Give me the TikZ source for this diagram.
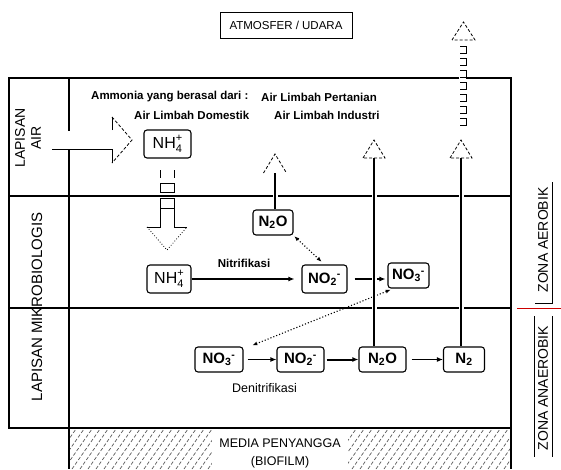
\documentclass[tikz,border=0pt]{standalone}
\usepackage{fontspec}
\setmainfont{Liberation Sans}
\usetikzlibrary{arrows.meta}
\newcommand{\fsz}[1]{\fontsize{#1}{#1}\selectfont}
\newcommand{\ionsp}[2]{\rlap{\raisebox{-3.5pt}{\fsz{11}#1}}\raisebox{7pt}{\fsz{11}#2}}

\begin{document}
\begin{tikzpicture}[x=1pt, y=-1pt,
  spc/.style={draw, rounded corners=3pt, line width=1.1pt, minimum height=25pt,
              minimum width=41pt, inner sep=2pt, font=\fsz{15}\bfseries},
  lbl/.style={inner sep=0pt, font=\fsz{11.5}\bfseries},
  arr/.style={-{Latex[length=6pt,width=5pt]}, line width=1.1pt},
  dotarr/.style={{Latex[length=5pt,width=4pt]}-{Latex[length=5pt,width=4pt]},
                 dotted, line width=1.1pt},
  divline/.style={line width=1.1pt},
  ventline/.style={line width=1.1pt,
                   preaction={draw=white, line width=5pt, shorten <=3pt}},
  hollowhead/.style={line width=0.8pt, dash pattern=on 3pt off 2pt},
  hatch/.style={black!65, line width=0.7pt, dash pattern=on 3.5pt off 2pt}
]
  \useasboundingbox (0,0) rectangle (561,469);

  % media penyangga
  \begin{scope}
    \clip (69.6,429.5) rectangle (510.4,469);
    \foreach \i in {0,8,...,480}
      \draw[hatch] (40+\i,469) -- ++(28,-40);
  \end{scope}
  \node[fill=white, minimum width=136pt, minimum height=46pt, align=center,
        inner sep=0pt, font=\fontsize{12.5}{18}\selectfont] (media) at (280,453)
    {MEDIA PENYANGGA\\(BIOFILM)};

  % frame
  \draw[divline] (9,78) -- (9,428);
  \draw[line width=2.2pt] (8,78) -- (459,78) (466,78) -- (512,78);
  \draw[divline] (511,78) -- (511,469);
  \draw[line width=2.2pt] (8,428) -- (512,428);
  \draw[divline] (69,78) -- (69,131) (69,150) -- (69,469);
  \draw[divline] (9,196) -- (511,196) (9,308) -- (511,308);

  \node[draw, line width=0.8pt, minimum width=132pt, minimum height=26pt,
        font=\fsz{11.5}] (atm) at (286,25) {ATMOSFER / UDARA};

  \node[rotate=90, align=center, inner sep=0pt,
        font=\fontsize{14}{16}\selectfont] (lapair) at (28,138) {LAPISAN\\AIR};
  \node[rotate=90, inner sep=0pt, font=\fsz{15}] (lapmik) at (37,307)
    {LAPISAN MIKROBIOLOGIS};

  \node[lbl, anchor=west] (ammo) at (91,97) {Ammonia yang berasal dari :};
  \node[lbl, anchor=west] (tani) at (261,97) {Air Limbah Pertanian};
  \node[lbl, anchor=west] (dom) at (134,115) {Air Limbah Domestik};
  \node[lbl, anchor=west] (ind) at (274,115) {Air Limbah Industri};

  % species
  \node[spc, font=\fsz{16}, minimum width=47pt, minimum height=28pt] (nh4a)
    at (167.5,144) {NH\ionsp{4}{+}};
  \node[spc, minimum width=40pt] (n2oa) at (273,222.5) {N\textsubscript{2}O};
  \node[spc, font=\fsz{16}, minimum width=44pt, minimum height=28pt] (nh4b)
    at (169,279) {NH\ionsp{4}{+}};
  \node[spc, minimum width=45pt, minimum height=28pt] (no2a) at (324.5,279)
    {NO\textsubscript{2}\textsuperscript{-}};
  \node[spc, minimum width=41pt] (no3a) at (408.5,275.5)
    {NO\textsubscript{3}\textsuperscript{-}};
  \node[spc, minimum width=48pt] (no3b) at (219,359.5)
    {NO\textsubscript{3}\textsuperscript{-}};
  \node[spc, minimum width=47pt] (no2b) at (300.5,359.5)
    {NO\textsubscript{2}\textsuperscript{-}};
  \node[spc, minimum width=47pt] (n2ob) at (382.5,359.5) {N\textsubscript{2}O};
  \node[spc, minimum width=41pt] (n2b) at (464,359.5) {N\textsubscript{2}};

  \node[lbl] (nitri) at (244,263) {Nitrifikasi};
  \node[inner sep=0pt, font=\fsz{12.5}] (denitri) at (264.5,388) {Denitrifikasi};

  % reactions
  \draw[arr, line width=1.6pt, shorten >=7pt] (nh4b) -- (no2a);
  \draw[arr, shorten <=7pt, shorten >=2pt] (no2a.east) -- (no2a.east -| no3a.west);
  \draw[arr, shorten <=4pt] (no3b) -- (no2b);
  \draw[arr, line width=2pt, shorten <=2pt] (no2b) -- (n2ob);
  \draw[arr, shorten <=5pt] (n2ob) -- (n2b);
  \draw[dotarr, shorten <=1pt, shorten >=4pt] (n2oa.south east) -- (no2a.north);
  \draw[dotarr, shorten <=3pt, shorten >=3pt]
    ([xshift=6pt]no3a.south west) -- ([xshift=6pt]no3b.north east);

  % gas release
  \coordinate (vent1) at (275,173);
  \coordinate (vent2) at (374,158);
  \coordinate (vent3) at (461,158);
  \coordinate (vent4) at (463.5,40);
  \draw[ventline] (n2oa.north -| vent1) -- (vent1);
  \draw[ventline] (n2ob.north -| vent2) -- (vent2);
  \draw[ventline] (n2b.north -| vent3) -- (vent3);
  \draw[hollowhead] (vent1) ++(-11.5,0) -- ++(11.5,-19) -- ++(11.5,19);
  \draw[hollowhead] (vent2) ++(-11,0) -- ++(11,-18) -- ++(11,18) -- cycle;
  \draw[hollowhead] (vent3) ++(-11,0) -- ++(11,-18) -- ++(11,18) -- cycle;
  \draw[hollowhead] (vent4) ++(-11.5,0) -- ++(11.5,-18) -- ++(11.5,18) -- cycle;
  \foreach \y in {46,58,...,118}
    \draw[line width=0.9pt] (460,\y) -- (466,\y) -- (466,\y+7) -- (460,\y+7);

  % ammonia inflow
  \draw[line width=1pt] (52,149) -- (112,149) -- (112,163) (112,130) -- (112,117);
  \draw[hollowhead] (112,117) -- (132,140) -- (112,163);
  \draw[line width=0.9pt] (160,170) -- (160,178) (174,170) -- (174,178);
  \draw[line width=0.9pt] (160,183) rectangle (174,192) (160,198) rectangle (174,208);
  \draw[line width=0.9pt] (160,208) -- (160,227) -- (147,227)
                          (174,208) -- (174,227) -- (187,227);
  \draw[hollowhead, dotted] (147,227) -- (167,250) -- (187,227);

  % zones
  \node[rotate=90, inner sep=0pt, font=\fsz{14}] (aer) at (543,240) {ZONA AEROBIK};
  \node[rotate=90, inner sep=0pt, font=\fsz{14}] (anaer) at (543,388) {ZONA ANAEROBIK};
  \draw[line width=1pt] (552,182) -- (552,303) -- (535,303);
  \draw[line width=1pt] (534,316) -- (534,457) (552,316) -- (552,457);
  \draw[red!80!black, line width=1pt] (517,308) -- (561,308);
\end{tikzpicture}
\end{document}
